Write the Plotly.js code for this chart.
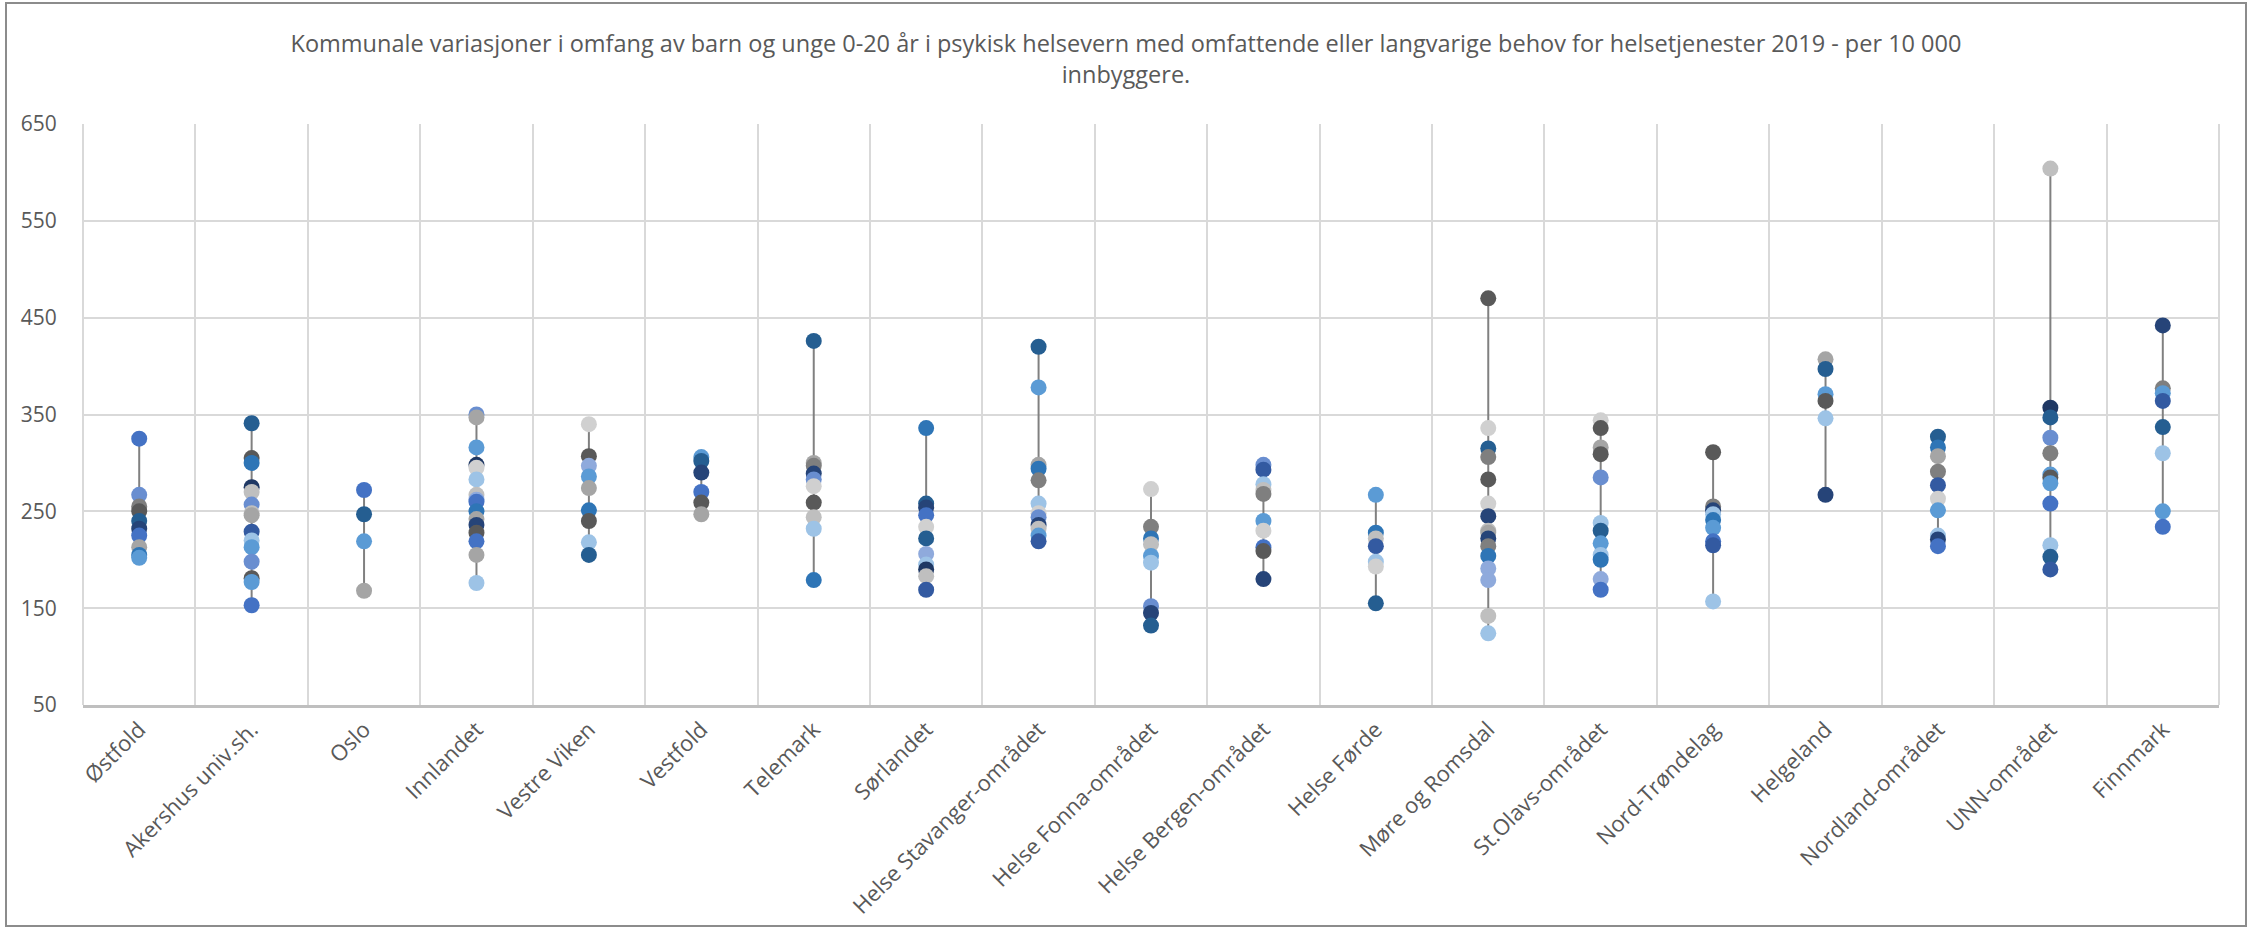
<!DOCTYPE html>
<html>
<head>
<meta charset="utf-8">
<script src="https://cdn.plot.ly/plotly-3.0.1.min.js"></script>
<style>
  html, body { margin: 0; padding: 0; background: #fff; }
  #wrap { position: relative; width: 2252px; height: 931px; }
  #chart { position: absolute; left: 0; top: 0; width: 2252px; height: 931px; }
  #frame { position: absolute; left: 5px; top: 2px; width: 2242px; height: 925px;
           border: 2px solid #8C8C8C; box-sizing: border-box; pointer-events: none; }
</style>
</head>
<body>
<div id="wrap"><div id="chart"></div><div id="frame"></div></div>
<script>
// ---- Data ----
const categories = ["Østfold","Akershus univ.sh.","Oslo","Innlandet","Vestre Viken","Vestfold","Telemark","Sørlandet","Helse Stavanger-området","Helse Fonna-området","Helse Bergen-området","Helse Førde","Møre og Romsdal","St.Olavs-området","Nord-Trøndelag","Helgeland","Nordland-området","UNN-området","Finnmark"];

const ostfold        = [325, 267, 255, 250, 240, 232, 225, 213, 205, 202];
const akershus       = [341, 305, 300, 275, 270, 257, 248, 246, 229, 220, 213, 198, 181, 177, 153];
const oslo           = [272, 247, 219, 168];
const innlandet      = [350, 347, 316, 298, 295, 283, 267, 262, 260, 250, 242, 236, 228, 219, 205, 176];
const vestreViken    = [340, 307, 297, 286, 274, 251, 240, 218, 205];
const vestfold       = [306, 302, 290, 270, 259, 247];
const telemark       = [426, 300, 297, 289, 283, 276, 259, 244, 232, 179];
const sorlandet      = [336, 258, 254, 246, 234, 222, 206, 195, 190, 183, 169];
const stavanger      = [420, 378, 298, 294, 282, 258, 248, 244, 236, 232, 225, 219];
const fonna          = [273, 234, 222, 216, 204, 197, 152, 145, 132];
const bergen         = [298, 293, 278, 272, 268, 240, 230, 213, 209, 180];
const forde          = [267, 228, 222, 214, 198, 193, 155];
const moreRomsdal    = [470, 336, 315, 306, 283, 258, 245, 230, 228, 222, 214, 204, 191, 179, 142, 124];
const stOlavs        = [344, 336, 316, 309, 285, 238, 230, 217, 205, 200, 180, 169];
const nordTrondelag  = [311, 255, 251, 247, 241, 233, 219, 215, 157];
const helgeland      = [407, 397, 371, 364, 346, 267];
const nordland       = [327, 316, 307, 291, 277, 263, 251, 225, 221, 214];
const unn            = [604, 357, 347, 326, 310, 288, 285, 279, 258, 215, 203, 190];
const finnmark       = [442, 377, 372, 364, 337, 310, 250, 234];

const seriesValues = [ostfold, akershus, oslo, innlandet, vestreViken, vestfold, telemark, sorlandet,
  stavanger, fonna, bergen, forde, moreRomsdal, stOlavs, nordTrondelag, helgeland, nordland, unn, finnmark];

const yTickVals = [50, 150, 250, 350, 450, 550, 650];

// ---- Styles (marker colours per point) ----
const P = {
  A:'#264478', B:'#4472C4', C:'#5B9BD5', D:'#255E91', E:'#2E75B6', F:'#698ED0',
  G:'#9DC3E6', H:'#8FAADC', I:'#7F7F7F', J:'#595959', K:'#A5A5A5', L:'#BFBFBF',
  M:'#D0D0D0', N:'#1F3864', O:'#335AA1'
};
const colorCodes = [
  "B F I J D A B K E C",
  "D J E N L F L K O G C F J C B",
  "B D C K",
  "F K C N M G L H B E K A J B K G",
  "M J H C K E J G D",
  "C D A B J K",
  "D K I A F M J L G E",
  "E D A B M D H G N L O",
  "D C K E I G M F A L C O",
  "M I E L C G F A D",
  "F O G L I C M B J A",
  "C E L O G M D",
  "J M D I J M A L K A I E H H L G",
  "M J K J F G D C G E H B",
  "J I A G E C B O G",
  "K D C J G A",
  "D E K I O M C G A B",
  "L N D F I C J C B G D O",
  "A I C O D G C B"
];

// ---- Traces ----
const traces = [];
const lx = [], ly = [];
categories.forEach((c, i) => {
  const v = seriesValues[i];
  lx.push(c, c, null);
  ly.push(Math.min(...v), Math.max(...v), null);
});
traces.push({
  type: 'scatter', mode: 'lines', x: lx, y: ly, connectgaps: false,
  line: { color: '#808080', width: 2 }, hoverinfo: 'skip', showlegend: false
});
categories.forEach((c, i) => {
  const v = seriesValues[i];
  const cols = colorCodes[i].split(' ').map(k => P[k]);
  traces.push({
    type: 'scatter', mode: 'markers',
    x: v.map(() => c), y: v,
    marker: { size: 16, color: cols, line: { width: 0 } },
    showlegend: false, name: c
  });
});

const FONT = '"Open Sans", sans-serif';
const layout = {
  width: 2252, height: 931,
  margin: { l: 83, r: 33, t: 124, b: 226 },
  paper_bgcolor: '#fff', plot_bgcolor: '#fff',
  font: { family: FONT, color: '#595959' },
  title: {
    text: 'Kommunale variasjoner i omfang av barn og unge 0-20 år i psykisk helsevern med omfattende eller langvarige behov for helsetjenester 2019 - per 10 000<br>innbyggere.',
    font: { family: FONT, size: 23.5, color: '#595959' },
    x: 0.5, xanchor: 'center', y: 0.944, yanchor: 'top', yref: 'container'
  },
  xaxis: {
    type: 'category', categoryorder: 'array', categoryarray: categories,
    range: [-0.5, categories.length - 0.5],
    tickson: 'boundaries', showgrid: true, gridcolor: '#D9D9D9', gridwidth: 2,
    showline: true, linecolor: '#BFBFBF', linewidth: 3,
    ticks: 'outside', ticklen: 8, tickcolor: 'rgba(0,0,0,0)', tickangle: -45,
    tickfont: { family: FONT, size: 22, color: '#595959' },
    zeroline: false, fixedrange: true
  },
  yaxis: {
    range: [50, 650], tickmode: 'array', tickvals: yTickVals,
    ticktext: yTickVals.map(String),
    showgrid: true, gridcolor: '#D9D9D9', gridwidth: 2,
    zeroline: false, showline: false,
    ticks: 'outside', ticklen: 21, tickcolor: 'rgba(0,0,0,0)',
    tickfont: { family: FONT, size: 21, color: '#595959' },
    fixedrange: true
  },
  shapes: [
    { type: 'line', xref: 'paper', yref: 'paper', x0: 0, x1: 0, y0: 0, y1: 1,
      line: { color: '#D9D9D9', width: 2 }, layer: 'below' },
    { type: 'line', xref: 'paper', yref: 'paper', x0: 1, x1: 1, y0: 0, y1: 1,
      line: { color: '#D9D9D9', width: 2 }, layer: 'below' }
  ],
  hovermode: false
};

Plotly.newPlot('chart', traces, layout, { displayModeBar: false, staticPlot: true });
</script>
</body>
</html>
